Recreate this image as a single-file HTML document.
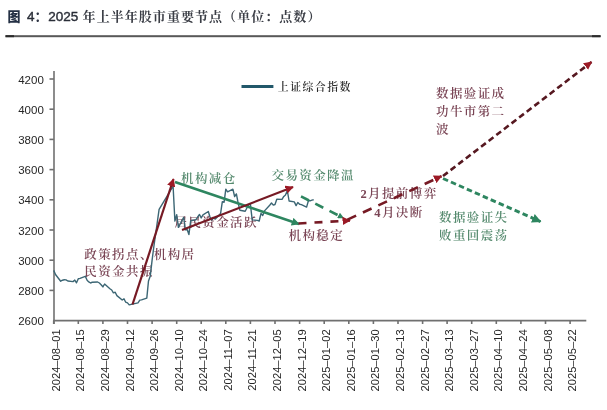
<!DOCTYPE html>
<html><head><meta charset="utf-8"><style>
html,body{margin:0;padding:0;background:#fff;}
body{width:607px;height:410px;overflow:hidden;position:relative;}
svg{position:absolute;left:0;top:0;filter:blur(0.4px);}
.t{font-family:"Liberation Sans","Noto Sans CJK SC",sans-serif;}
.s{font-family:"Liberation Serif","Noto Serif CJK SC",serif;}
</style></head><body>
<svg width="607" height="410" viewBox="0 0 607 410">
<defs>
<marker id="ar" viewBox="0 0 10 10" refX="9" refY="5" markerWidth="3.2" markerHeight="3.2" orient="auto" markerUnits="strokeWidth"><path d="M0,0 L10,5 L0,10 z" fill="#9c1a26"/></marker>
<marker id="ag" viewBox="0 0 10 10" refX="9" refY="5" markerWidth="3.2" markerHeight="3.2" orient="auto" markerUnits="strokeWidth"><path d="M0,0 L10,5 L0,10 z" fill="#2e8660"/></marker>
<marker id="ar2" viewBox="0 0 10 10" refX="9" refY="5" markerWidth="3.8" markerHeight="3.8" orient="auto" markerUnits="strokeWidth"><path d="M0,0 L10,5 L0,10 z" fill="#9c1a26"/></marker>
<marker id="ag2" viewBox="0 0 10 10" refX="9" refY="5" markerWidth="3.1" markerHeight="3.1" orient="auto" markerUnits="strokeWidth"><path d="M0,0 L10,5 L0,10 z" fill="#2e8660"/></marker>
<marker id="ag3" viewBox="0 0 10 10" refX="9" refY="5" markerWidth="2.4" markerHeight="2.4" orient="auto" markerUnits="strokeWidth"><path d="M0,0 L10,5 L0,10 z" fill="#2e8660"/></marker>
</defs>
<g fill="#3b3e46" font-weight="500">
<text class="t" x="7.6" y="20.8" font-size="13" font-weight="900" fill="#243044">图</text>
<text class="t" x="27" y="21" font-size="13.5" font-weight="normal" fill="#2a2e38" stroke="#2a2e38" stroke-width="0.4">4</text>
<text class="t" x="34.5" y="20.8" font-size="13" font-weight="bold" fill="#2e3444">：</text>
<text class="t" x="48.3" y="21" font-size="13.5" font-weight="normal" fill="#2a2e38" stroke="#2a2e38" stroke-width="0.4">2025</text>
<text class="s" x="82.6" y="20.8" font-size="13" font-weight="700" letter-spacing="1.05">年上半年股市重要节点（单位：点数）</text>
</g>
<rect x="5.5" y="35.2" width="595" height="2" fill="#585858"/>
<rect x="5.5" y="35.2" width="8.5" height="2" fill="#2a2a2a"/>
<rect x="592" y="35.2" width="8.6" height="2" fill="#2a2a2a"/>
<g stroke="#707070" stroke-width="1.6" fill="none">
<line x1="54" y1="71" x2="54" y2="324"/>
<line x1="53.3" y1="320.6" x2="586.3" y2="320.6"/>
<line x1="49.5" y1="290.4" x2="54" y2="290.4"/><line x1="49.5" y1="260.2" x2="54" y2="260.2"/><line x1="49.5" y1="230.0" x2="54" y2="230.0"/><line x1="49.5" y1="199.8" x2="54" y2="199.8"/><line x1="49.5" y1="169.6" x2="54" y2="169.6"/><line x1="49.5" y1="139.4" x2="54" y2="139.4"/><line x1="49.5" y1="109.2" x2="54" y2="109.2"/><line x1="49.5" y1="79.0" x2="54" y2="79.0"/>
<line x1="53.7" y1="320.6" x2="53.7" y2="324"/><line x1="78.3" y1="320.6" x2="78.3" y2="324"/><line x1="102.9" y1="320.6" x2="102.9" y2="324"/><line x1="127.5" y1="320.6" x2="127.5" y2="324"/><line x1="152.1" y1="320.6" x2="152.1" y2="324"/><line x1="176.7" y1="320.6" x2="176.7" y2="324"/><line x1="201.2" y1="320.6" x2="201.2" y2="324"/><line x1="225.8" y1="320.6" x2="225.8" y2="324"/><line x1="250.4" y1="320.6" x2="250.4" y2="324"/><line x1="275.0" y1="320.6" x2="275.0" y2="324"/><line x1="299.6" y1="320.6" x2="299.6" y2="324"/><line x1="324.2" y1="320.6" x2="324.2" y2="324"/><line x1="348.8" y1="320.6" x2="348.8" y2="324"/><line x1="373.4" y1="320.6" x2="373.4" y2="324"/><line x1="398.0" y1="320.6" x2="398.0" y2="324"/><line x1="422.6" y1="320.6" x2="422.6" y2="324"/><line x1="447.1" y1="320.6" x2="447.1" y2="324"/><line x1="471.7" y1="320.6" x2="471.7" y2="324"/><line x1="496.3" y1="320.6" x2="496.3" y2="324"/><line x1="520.9" y1="320.6" x2="520.9" y2="324"/><line x1="545.5" y1="320.6" x2="545.5" y2="324"/><line x1="570.1" y1="320.6" x2="570.1" y2="324"/>
</g>
<g class="t" font-size="11.5" fill="#262626" text-anchor="end">
<text x="43.8" y="325.1">2600</text><text x="43.8" y="294.9">2800</text><text x="43.8" y="264.7">3000</text><text x="43.8" y="234.5">3200</text><text x="43.8" y="204.3">3400</text><text x="43.8" y="174.1">3600</text><text x="43.8" y="143.9">3800</text><text x="43.8" y="113.7">4000</text><text x="43.8" y="83.5">4200</text>
</g>
<g class="t" font-size="11.2" fill="#262626" text-anchor="end">
<text transform="translate(59.7,329.3) rotate(-90)">2024&#8211;08&#8211;01</text><text transform="translate(84.3,329.3) rotate(-90)">2024&#8211;08&#8211;15</text><text transform="translate(108.9,329.3) rotate(-90)">2024&#8211;08&#8211;29</text><text transform="translate(133.5,329.3) rotate(-90)">2024&#8211;09&#8211;12</text><text transform="translate(158.1,329.3) rotate(-90)">2024&#8211;09&#8211;26</text><text transform="translate(182.7,329.3) rotate(-90)">2024&#8211;10&#8211;10</text><text transform="translate(207.2,329.3) rotate(-90)">2024&#8211;10&#8211;24</text><text transform="translate(231.8,329.3) rotate(-90)">2024&#8211;11&#8211;07</text><text transform="translate(256.4,329.3) rotate(-90)">2024&#8211;11&#8211;21</text><text transform="translate(281.0,329.3) rotate(-90)">2024&#8211;12&#8211;05</text><text transform="translate(305.6,329.3) rotate(-90)">2024&#8211;12&#8211;19</text><text transform="translate(330.2,329.3) rotate(-90)">2025&#8211;01&#8211;02</text><text transform="translate(354.8,329.3) rotate(-90)">2025&#8211;01&#8211;16</text><text transform="translate(379.4,329.3) rotate(-90)">2025&#8211;01&#8211;30</text><text transform="translate(404.0,329.3) rotate(-90)">2025&#8211;02&#8211;13</text><text transform="translate(428.6,329.3) rotate(-90)">2025&#8211;02&#8211;27</text><text transform="translate(453.1,329.3) rotate(-90)">2025&#8211;03&#8211;13</text><text transform="translate(477.7,329.3) rotate(-90)">2025&#8211;03&#8211;27</text><text transform="translate(502.3,329.3) rotate(-90)">2025&#8211;04&#8211;10</text><text transform="translate(526.9,329.3) rotate(-90)">2025&#8211;04&#8211;24</text><text transform="translate(551.5,329.3) rotate(-90)">2025&#8211;05&#8211;08</text><text transform="translate(576.1,329.3) rotate(-90)">2025&#8211;05&#8211;22</text>
</g>
<line x1="241.5" y1="86.6" x2="273.4" y2="86.6" stroke="#22586a" stroke-width="3"/>
<text class="s" x="277.8" y="90.6" font-size="10.8" letter-spacing="1.55" font-weight="600" fill="#2a2a2a">上证综合指数</text>
<g class="s" font-size="12.5" letter-spacing="1.4" font-weight="600">
<g fill="#7a4555">
<text x="84.3" y="259">政策拐点、机构居</text>
<text x="84.3" y="276.3">民资金共振</text>
<text x="174.5" y="227">居民资金活跃</text>
<text x="288.5" y="239.7">机构稳定</text>
<text x="399" y="198" text-anchor="middle">2月提前博弈</text>
<text x="399" y="216.5" text-anchor="middle">4月决断</text>
<text x="436" y="98">数据验证成</text>
<text x="436" y="116.3">功牛市第二</text>
<text x="436" y="133.6">波</text>
</g>
<g fill="#558a6e">
<text x="181" y="183.3">机构减仓</text>
<text x="271.5" y="180">交易资金降温</text>
<text x="439" y="222.3">数据验证失</text>
<text x="439" y="239.5">败重回震荡</text>
</g>
</g>
<polyline points="53.7,270.4 55.5,274.5 60.7,281.2 62.5,280.2 64.2,279.8 66.0,279.9 67.8,281.0 73.0,281.6 74.8,280.1 76.5,282.8 78.3,278.7 80.0,278.4 85.3,276.3 87.1,280.3 88.8,281.9 90.6,283.0 92.3,282.2 97.6,282.0 99.4,283.0 101.1,284.7 102.9,286.9 104.6,284.0 109.9,288.7 111.7,290.0 113.4,292.8 115.2,292.2 116.9,295.6 122.2,300.0 124.0,298.8 125.7,302.2 127.5,302.9 129.2,304.9 138.0,302.9 139.8,300.1 141.5,299.9 146.8,298.1 148.5,280.9 150.3,275.9 152.1,260.1 153.8,247.0 159.1,209.4 173.1,186.2 174.9,221.1 176.7,214.6 178.4,227.3 183.7,217.3 185.4,229.8 187.2,229.6 188.9,234.6 190.7,220.7 196.0,219.7 197.7,217.0 199.5,214.5 201.2,217.9 203.0,214.9 208.3,211.5 210.0,217.0 211.8,220.0 213.5,217.9 215.3,219.1 220.6,213.4 222.3,201.8 224.1,202.2 225.8,189.1 227.6,191.9 232.9,189.2 234.6,196.5 236.4,193.9 238.1,202.8 239.9,210.3 245.2,211.3 246.9,208.0 248.7,204.6 250.4,204.3 252.2,219.9 257.4,220.4 259.2,221.0 261.0,213.4 262.7,215.5 264.5,210.9 269.7,205.2 271.5,203.0 273.3,205.1 275.0,204.5 276.8,199.2 282.0,199.4 283.8,196.4 285.5,194.9 287.3,190.5 289.1,201.0 294.3,201.9 296.1,205.6 297.8,202.5 299.6,204.3 301.4,204.6 306.6,207.1 308.4,200.8 310.1,200.8 311.9,200.1 313.7,199.8" fill="none" stroke="#3c6674" stroke-width="1.4" stroke-linejoin="round"/>
<g fill="none" stroke-width="2.6">
<line x1="132.5" y1="304.5" x2="173.5" y2="179" stroke="#761a24" stroke-width="2.2" marker-end="url(#ar2)"/>
<line x1="175" y1="182" x2="299" y2="224" stroke="#2e8660" stroke-width="2.6" marker-end="url(#ag2)"/>
<line x1="182" y1="230" x2="293" y2="187" stroke="#761a24" stroke-width="2.2" marker-end="url(#ar2)"/>
<line x1="301" y1="196.4" x2="343.5" y2="218" stroke="#2e8660" stroke-dasharray="9 7" marker-end="url(#ag3)"/>
<line x1="298.5" y1="223.5" x2="350" y2="220.5" stroke="#761a24" stroke-dasharray="8 8" marker-end="url(#ar)"/>
<line x1="347.5" y1="219.6" x2="441.5" y2="176.2" stroke="#761a24" stroke-dasharray="9.5 7.5" marker-end="url(#ar)"/>
<line x1="443" y1="176" x2="591.5" y2="62" stroke="#561820" stroke-dasharray="6 3.6" marker-end="url(#ar)"/>
<line x1="443" y1="178.5" x2="540.5" y2="221.6" stroke="#2e8660" stroke-dasharray="5.5 3.2" stroke-width="2.9" marker-end="url(#ag)"/>
</g>
</svg>
</body></html>
